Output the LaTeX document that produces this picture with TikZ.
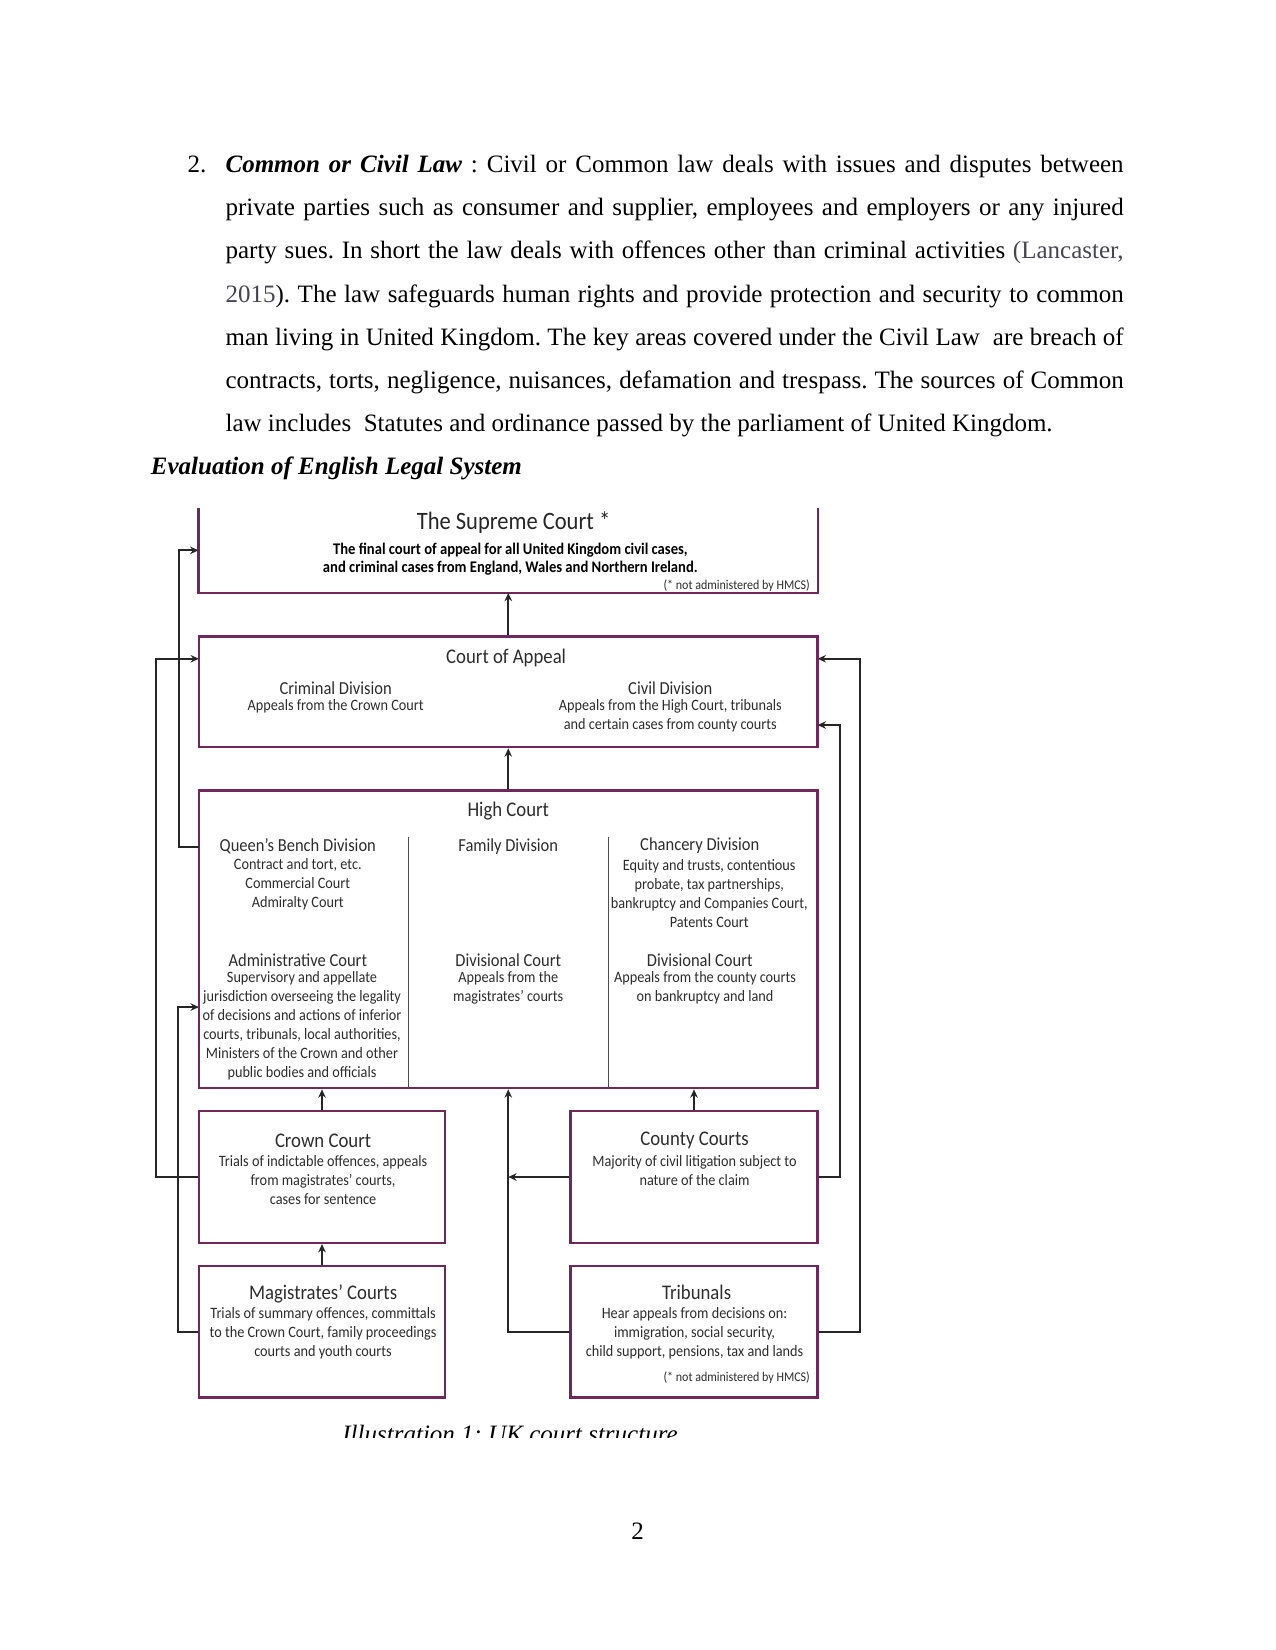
\documentclass[tikz,border=0pt]{standalone}
\usepackage{fontspec}
\setmainfont{Liberation Serif}
\newfontfamily\dfont[FakeStretch=0.9]{Carlito}
\usetikzlibrary{arrows.meta,fit}
\definecolor{boxc}{RGB}{112,40,92}
\definecolor{dtext}{RGB}{45,45,45}
\definecolor{cite}{RGB}{70,70,80}
\frenchspacing
\begin{document}
\begin{tikzpicture}[x=0.505pt,y=-0.505pt,
  box/.style={draw=boxc,line width=1.2pt,inner sep=0pt},
  conn/.style={draw=black!85,line width=0.95pt},
  arr/.style={conn,-{Stealth[length=4pt,width=3.6pt]}},
  ttl/.style={font=\dfont\fontsize{10}{11}\selectfont,text=dtext,inner sep=0pt},
  sub/.style={font=\dfont\fontsize{8.8}{9.1}\selectfont,text=dtext,inner sep=0pt},
  dsc/.style={font=\dfont\fontsize{7.6}{9.1}\selectfont,text=dtext,align=center,inner sep=0pt},
  note/.style={font=\dfont\fontsize{6.4}{7}\selectfont,text=dtext,inner sep=0pt,anchor=east},
  body/.style={anchor=base west,inner sep=0pt,font=\fontsize{12}{14}\selectfont},
]
\useasboundingbox[fill=white] (0,0) rectangle (1212,1568);

% ---------- body text ----------
\node[body] (n2) at (178,164) {2.};
\node[body] (l1) at (214,164) {\makebox[431pt][s]{\textbf{\textit{Common or Civil Law}} : Civil or Common law deals with issues and disputes between}};
\node[body] (l2) at (214,205) {\makebox[431pt][s]{private parties such as consumer and supplier, employees and employers or any injured}};
\node[body] (l3) at (214,246) {\makebox[431pt][s]{party sues. In short the law deals with offences other than criminal activities {\color{cite}(Lancaster,}}};
\node[body] (l4) at (214,287) {\makebox[431pt][s]{{\color{cite}2015}). The law safeguards human rights and provide protection and security to common}};
\node[body] (l5) at (214,328) {\makebox[431pt][s]{man living in United Kingdom. The key areas covered under the Civil Law\ \ are breach of}};
\node[body] (l6) at (214,369) {\makebox[431pt][s]{contracts, torts, negligence, nuisances, defamation and trespass. The sources of Common}};
\node[body] (l7) at (214,410) {law includes\ \ Statutes and ordinance passed by the parliament of United Kingdom.};
\node[body] (hd) at (143,451) {\textbf{\textit{Evaluation of English Legal System}}};

% ---------- boxes ----------
\node[inner sep=0pt,fit={(189,483)(777,563)}] (sup) {};
\draw[boxc,line width=1.2pt] (sup.north west) -- (sup.south west) -- (sup.south east) -- (sup.north east);
\node[box,fit={(189,605)(777,710)}] (coa) {};
\node[box,fit={(189,751)(777,1034)}] (hc) {};
\node[box,fit={(189,1056)(423,1181)}] (crown) {};
\node[box,fit={(542,1056)(777,1181)}] (county) {};
\node[box,fit={(189,1203)(423,1328)}] (mag) {};
\node[box,fit={(542,1203)(777,1328)}] (trib) {};
\draw[draw=black!70,line width=0.6pt] (388,795) coordinate (d1a) -- (388,1034) coordinate (d1b);
\draw[draw=black!70,line width=0.6pt] (578,795) coordinate (d2a) -- (578,1034) coordinate (d2b);

% ---------- box texts ----------
\node[font=\dfont\fontsize{12}{13}\selectfont,text=black!85,inner sep=0pt] (supT) at (488,497) {The Supreme Court *};
\node[font=\dfont\bfseries\fontsize{7.8}{8.6}\selectfont,align=center,inner sep=0pt] (supD) at (485,531) {The final court of appeal for all United Kingdom civil cases,\\and criminal cases from England, Wales and Northern Ireland.};
\node[note] (supN) at (770,557) {(* not administered by HMCS)};

\node[ttl] (coaT) at (481,625) {Court of Appeal};
\node[sub] (crimT) at (319,654) {Criminal Division};
\node[dsc] (crimD) at (319,671) {Appeals from the Crown Court};
\node[sub] (civT) at (637,654) {Civil Division};
\node[dsc] (civD) at (637,680) {Appeals from the High Court, tribunals\\and certain cases from county courts};

\node[ttl] (hcT) at (483,771) {High Court};
\node[sub] (qbT) at (283,804) {Queen’s Bench Division};
\node[dsc] (qbD) at (283,840) {Contract and tort, etc.\\Commercial Court\\Admiralty Court};
\node[sub] (famT) at (483,805) {Family Division};
\node[sub] (chT) at (665,804) {Chancery Division};
\node[dsc] (chD) at (674,849) {Equity and trusts, contentious\\probate, tax partnerships,\\bankruptcy and Companies Court,\\Patents Court};
\node[sub] (admT) at (283,912) {Administrative Court};
\node[dsc] (admD) at (287,975) {Supervisory and appellate\\jurisdiction overseeing the legality\\of decisions and actions of inferior\\courts, tribunals, local authorities,\\Ministers of the Crown and other\\public bodies and officials};
\node[sub] (dv1T) at (483,912) {Divisional Court};
\node[dsc] (dv1D) at (483,939) {Appeals from the\\magistrates’ courts};
\node[sub] (dv2T) at (665,912) {Divisional Court};
\node[dsc] (dv2D) at (670,939) {Appeals from the county courts\\on bankruptcy and land};

\node[ttl] (crT) at (307,1084) {Crown Court};
\node[dsc] (crD) at (307,1121) {Trials of indictable offences, appeals\\from magistrates’ courts,\\cases for sentence};
\node[ttl] (coT) at (660,1084) {County Courts};
\node[dsc] (coD) at (660,1112) {Majority of civil litigation subject to\\nature of the claim};
\node[ttl] (mgT) at (307,1230) {Magistrates’ Courts};
\node[dsc] (mgD) at (307,1267) {Trials of summary offences, committals\\to the Crown Court, family proceedings\\courts and youth courts};
\node[ttl] (trT) at (662,1228) {Tribunals};
\node[dsc] (trD) at (660,1267) {Hear appeals from decisions on:\\immigration, social security,\\child support, pensions, tax and lands};
\node[note] (trN) at (770,1309) {(* not administered by HMCS)};

% ---------- connector end points ----------
\coordinate (qbL) at (189,805);
\coordinate (coaL) at (189,626);
\coordinate (hcL) at (189,957);
\coordinate (coaR1) at (777,626);
\coordinate (coaR2) at (777,689);

% ---------- connectors ----------
\draw[arr] (coa.north) -- (sup.south);
\draw[arr] (hc.north) -- (coa.south);
\draw[arr] (crown.north) -- (crown.north |- hc.south);
\draw[arr] (county.north) -- (county.north |- hc.south);
\draw[arr] (mag.north) -- (crown.south);
\draw[arr] (trib.west) -| (hc.south);
\draw[arr] (county.west) -- (county.west -| hc.south);
\draw[arr] (qbL) -- ++(-19,0) |- (sup.west);
\draw[arr] (crown.west) -- ++(-40,0) |- (coaL);
\draw[arr] (mag.west) -- ++(-19,0) |- (hcL);
\draw[arr] (county.east) -- ++(20,0) |- (coaR2);
\draw[arr] (trib.east) -- ++(39,0) |- (coaR1);

% ---------- caption (clipped) and page number ----------
\begin{scope}
\clip (300,1340) rectangle (700,1366);
\node[body,font=\itshape\fontsize{12}{14}\selectfont] (cap) at (325,1371) {Illustration 1: UK court structure};
\end{scope}
\node[body,anchor=base] (pg) at (606,1463) {2};
\end{tikzpicture}
\end{document}
